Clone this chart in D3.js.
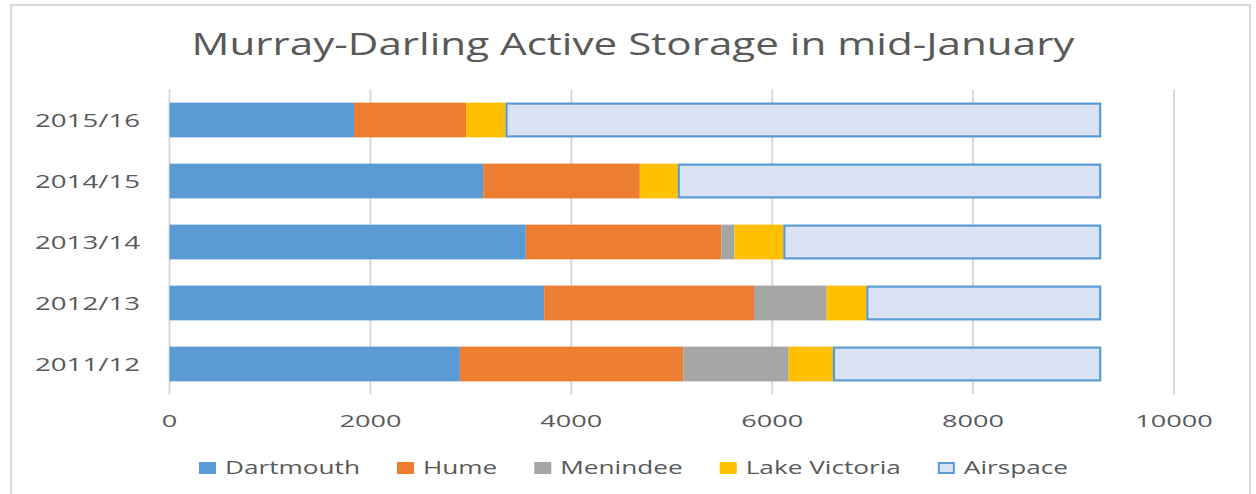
<!DOCTYPE html>
<html>
<head>
<meta charset="utf-8">
<script src="https://cdn.jsdelivr.net/npm/d3@7"></script>
<style>
  body { margin: 0; background: #fff; }
  text { font-family: "Open Sans", "Liberation Sans", Arial, sans-serif; fill: #595959; }
</style>
</head>
<body>
<script>
// Data (GL, mid-January)
var years = ["2011/12", "2012/13", "2013/14", "2014/15", "2015/16"];
var dartmouth = [2891, 3730, 3547, 3123, 1836];
var hume = [2225, 2089, 1947, 1559, 1117];
var menindee = [1048, 723, 130, 0, 0];
var lakeVictoria = [441, 395, 487, 378, 392];
var airspace = [2670, 2338, 3164, 4215, 5930];
var seriesNames = ["Dartmouth", "Hume", "Menindee", "Lake Victoria", "Airspace"];
var xTicks = [0, 2000, 4000, 6000, 8000, 10000];

var colors = ["#5b9bd5", "#ed7d31", "#a5a5a5", "#ffc000", "#dae3f3"];

var svgWidth = 1256;
var svgHeight = 494;

var svg = d3.select("body")
  .append("svg")
  .attr("width", svgWidth)
  .attr("height", svgHeight);

// the original picture is widened, so text gets stretched sideways
// factor = wanted width of a sample string / its natural width
function stretchFactor(sample, size, wanted) {
  var t = svg.append("text").style("font-size", size).text(sample);
  var f = wanted / t.node().getComputedTextLength();
  t.remove();
  return f;
}

function stretch(sel, factor) {
  sel.each(function() {
    var len = this.getComputedTextLength();
    this.__natural = len;
    d3.select(this)
      .attr("textLength", len * factor)
      .attr("lengthAdjust", "spacingAndGlyphs");
  });
}

// chart border
svg.append("rect")
  .attr("x", 11)
  .attr("y", 5)
  .attr("width", 1239)
  .attr("height", 500)
  .attr("fill", "none")
  .attr("stroke", "#d9d9d9")
  .attr("stroke-width", 2);

// build table for the stack
var table = years.map(function(y, i) {
  return {
    year: y,
    "Dartmouth": dartmouth[i],
    "Hume": hume[i],
    "Menindee": menindee[i],
    "Lake Victoria": lakeVictoria[i],
    "Airspace": airspace[i]
  };
});

var stacked = d3.stack().keys(seriesNames)(table);

var xScale = d3.scaleLinear()
  .domain([0, 10000])
  .range([169.5, 1174]);

var yScale = d3.scaleBand()
  .domain(years.slice().reverse())
  .range([89.5, 394.5])
  .paddingInner(0.43)
  .paddingOuter(0.215);

// gridlines
svg.append("g")
  .selectAll("line")
  .data(xTicks)
  .enter()
  .append("line")
  .attr("x1", d => xScale(d))
  .attr("x2", d => xScale(d))
  .attr("y1", 89.5)
  .attr("y2", 394.5)
  .attr("stroke", "#d9d9d9")
  .attr("stroke-width", 2);

// x tick labels
var xLabels = svg.append("g")
  .selectAll("text")
  .data(xTicks)
  .enter()
  .append("text")
  .attr("x", d => xScale(d))
  .attr("y", 427)
  .attr("text-anchor", "middle")
  .style("font-size", "17.2px")
  .text(d => d);
stretch(xLabels, stretchFactor("2000", "17.2px", 62));

// y labels
var yLabels = svg.append("g")
  .selectAll("text")
  .data(years)
  .enter()
  .append("text")
  .attr("x", 140)
  .attr("y", d => yScale(d) + yScale.bandwidth() / 2 + 6.7)
  .attr("text-anchor", "end")
  .style("font-size", "18.6px")
  .text(d => d);
stretch(yLabels, stretchFactor("2015/16", "18.6px", 105));

// bars
var layers = svg.append("g")
  .selectAll("g")
  .data(stacked)
  .enter()
  .append("g")
  .attr("fill", (d, i) => colors[i]);

layers.selectAll("rect")
  .data(d => d.map(v => ({ key: d.key, v: v })))
  .enter()
  .append("rect")
  .attr("x", d => xScale(d.v[0]) + (d.key === "Airspace" ? 1 : 0))
  .attr("y", d => yScale(d.v.data.year) + (d.key === "Airspace" ? 1 : 0))
  .attr("width", d => Math.max(0, xScale(d.v[1]) - xScale(d.v[0]) - (d.key === "Airspace" ? 2 : 0)))
  .attr("height", d => yScale.bandwidth() - (d.key === "Airspace" ? 2 : 0))
  .attr("stroke", d => d.key === "Airspace" ? "#5b9bd5" : "none")
  .attr("stroke-width", 2.2);

// title
var title = svg.append("text")
  .attr("x", 633)
  .attr("y", 55)
  .attr("text-anchor", "middle")
  .style("font-size", "31px")
  .text("Murray-Darling Active Storage in mid-January");
stretch(title, stretchFactor("Murray-Darling Active Storage in mid-January", "31px", 883));

// legend
var legendFactor = stretchFactor("Dartmouth", "18.6px", 135);
var legend = svg.append("g");
var lx = 199;
seriesNames.forEach(function(name, i) {
  var isAir = name === "Airspace";
  legend.append("rect")
    .attr("x", lx + (isAir ? 1 : 0))
    .attr("y", 462 + (isAir ? 1 : 0))
    .attr("width", 17 - (isAir ? 2 : 0))
    .attr("height", 12 - (isAir ? 2 : 0))
    .attr("fill", colors[i])
    .attr("stroke", isAir ? "#5b9bd5" : "none")
    .attr("stroke-width", 2);
  var t = legend.append("text")
    .attr("x", lx + 26)
    .attr("y", 473.5)
    .style("font-size", "18.6px")
    .text(name);
  stretch(t, legendFactor);
  lx = lx + 26 + t.node().__natural * legendFactor + 37;
});
</script>
</body>
</html>
